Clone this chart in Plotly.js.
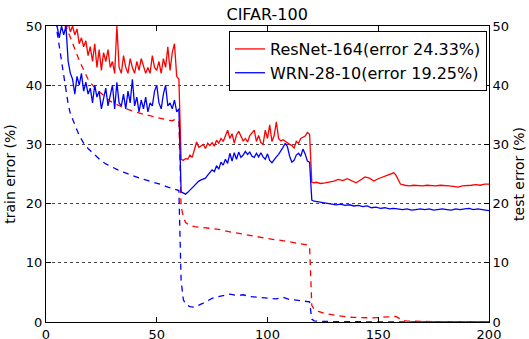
<!DOCTYPE html>
<html>
<head>
<meta charset="utf-8">
<script src="https://cdn.plot.ly/plotly-3.0.1.min.js"></script>
<style>html,body{margin:0;padding:0;background:#fff;}#chart{width:529px;height:339px;}</style>
</head>
<body>
<div id="chart"></div>
<script>
// ResNet-164 test error (solid), per epoch
var resTestX = [];
for (var i = 1; i <= 120; i++) resTestX.push(i);
var resTestY = [75,65,60,57,55,53,52,51,49.5,50.5,49,50,48.5,49.5,47,48,46.5,47.5,45,46.5,
  44,47,43,46,42.5,45.5,44,46,43,44,42,50,43,42,45,43,42,44.5,43,42,
  44,42.5,44.5,43,42,43,42,45,43,42.5,44,42,44.5,43,46.5,42.5,45.5,47,41.5,41,
  27.5,27.3,27.6,27.5,28.2,27.8,29,30.4,29.5,29.8,30,29.3,30.2,29.8,30.3,29.7,30.7,30.2,31,30.5,
  31.5,32.4,31,31.8,30.2,31.6,32.2,31.4,30.6,31,30.4,31.5,32,32.4,30.5,31.5,30.3,30,32.4,31,
  33.3,30.5,31.5,33.8,31,30.6,30.8,30.5,30.2,30,29.8,29.4,30.5,30.2,31,31.2,31.4,32,31.7,23.6];
var resTestX2 = [121,122,124,126,128,130,132,134,136,138,140,142,144,146,148,150,152,154,156,157,158,159,160,162,164,166,168,170,172,174,176,178,180,182,184,186,188,190,192,194,196,198,200];
var resTestY2 = [23.5,23.6,23.4,23.5,23.6,23.8,24.1,23.9,24.2,23.8,23.5,24,24.5,24.3,23.8,24.2,24.5,24.8,25,25.2,24.8,24,23.3,23.1,23,23.1,23,23,23.1,23,23,23.1,23.1,23,22.9,22.8,23,23,23.1,23.2,23.1,23.3,23.3];

// WRN-28-10 test error (solid), per epoch
var wrnTestY = [70,62,56,52,50,48,50,48.5,50,44,42,41,38.5,41.5,40,42,39,40.5,38.5,39.5,
  37,40,38,39,36,37.5,39.5,36.5,38,40,36,40.5,37,36.5,38.5,36,39,37,41,36.5,
  38,35.5,37.5,36,38,35.5,37,36.5,39,40,37,36,38.5,40,36.5,37,36,37.5,35.5,36,
  22,21.8,21.6,21.9,22.3,22.6,23,23.5,23.8,24,24.2,24.3,24.8,25.3,25.7,25.4,26.4,25.8,27,26.5,
  27.5,26.8,28.5,27.2,28.6,27.5,28.7,27.8,28.2,28.8,28.3,28.7,28,27.8,28.5,27.9,28.6,27.9,27.5,28.4,
  27.3,26.9,27.5,27.9,28.3,28.8,29.5,30.2,29.6,28,27,27.3,28.2,28.5,28,29.2,28.4,27.2,27,20.6];
var wrnTestX2 = [121,123,125,127,129,131,133,135,137,139,141,143,145,147,149,151,153,155,157,159,161,163,165,167,169,171,173,175,177,179,181,183,185,187,189,191,193,195,197,199,200];
var wrnTestY2 = [20.4,20.3,20.2,20.1,19.9,19.8,19.9,19.7,19.8,19.6,19.7,19.5,19.6,19.3,19.4,19.2,19.3,19.1,19.2,19.1,19,19.1,18.9,19,19.1,19,19.1,18.9,19,19.1,19,18.9,19.1,19,19.1,19.2,19,19.1,19,18.8,18.8];

// ResNet-164 train error (dashed)
var resTrainX = [1,3,5,7,9,11,13,15,17,19,21,23,25,27,29,31,33,35,37,39,41,43,45,47,49,51,53,55,57,59,60,
  61,62,63,65,67,70,73,76,79,82,85,88,91,94,97,100,103,106,109,112,115,118,119,
  120,121,123,126,129,132,135,138,141,144,147,150,153,156,158,160,161,163,166,170,175,180,190,200];
var resTrainY = [80,65,57,53,50,48,46,44.2,42.6,41,40,39.2,38.6,38,37.3,36.9,36.5,36.2,35.9,35.6,35.4,35.2,35,34.8,34.6,34.5,34.3,34.1,34,34.3,33.8,
  19.5,17.8,16.8,16.3,16.1,16,15.9,15.7,15.6,15.3,15.1,14.9,14.6,14.5,14.3,14,13.9,13.8,13.6,13.5,13.2,13,12.8,
  2.8,2.2,1.8,1.4,1.2,1,0.9,0.8,0.75,0.7,0.7,0.75,0.8,0.9,0.95,0.5,0.25,0.15,0.1,0.08,0.07,0.06,0.06,0.05];

// WRN-28-10 train error (dashed)
var wrnTrainX = [1,3,5,6,7,8,9,10,11,12,13,14,15,17,19,21,23,25,27,29,31,33,35,37,39,41,43,45,47,49,51,53,55,57,59,60,
  61,62,63,65,67,69,71,73,75,77,80,83,86,89,92,95,98,101,104,107,110,113,116,118,119,
  120,121,124,130,140,150,160,170,180,190,200];
var wrnTrainY = [75,58,49,46.5,44,41,38.7,36.8,35.2,34.2,33.2,32.2,31.5,30.2,29.3,28.6,27.9,27.2,26.7,26.3,25.9,25.6,25.3,25,24.7,24.4,24.2,24,23.8,23.6,23.3,23.1,22.8,22.6,22.4,22.2,
  7,3.8,3,2.6,2.5,2.8,3.2,3.6,4,4.2,4.4,4.7,4.5,4.6,4.3,4.2,4.1,4,3.9,4.2,3.8,3.7,3.6,3.5,3.4,
  0.5,0.2,0.1,0.05,0.04,0.03,0.03,0.02,0.02,0.02,0.02];

var resName = 'ResNet-164(error 24.33%)';
var wrnName = 'WRN-28-10(error 19.25%)';

var RED = '#ff0000', BLUE = '#0000ff';
var LW = 1.3;

var traces = [
  {x: resTrainX, y: resTrainY, yaxis: 'y', mode: 'lines', line: {color: RED, width: LW, dash: '6px,5px'}, showlegend: false, hoverinfo: 'skip'},
  {x: wrnTrainX, y: wrnTrainY, yaxis: 'y', mode: 'lines', line: {color: BLUE, width: LW, dash: '6px,5px'}, showlegend: false, hoverinfo: 'skip'},
  {x: resTestX.concat(resTestX2), y: resTestY.concat(resTestY2), yaxis: 'y2', mode: 'lines', name: resName, line: {color: RED, width: LW}},
  {x: resTestX.concat(wrnTestX2), y: wrnTestY.concat(wrnTestY2), yaxis: 'y2', mode: 'lines', name: wrnName, line: {color: BLUE, width: LW}}
];

var FONT = 'DejaVu Sans';
var layout = {
  width: 529, height: 339,
  margin: {l: 46, r: 40, t: 26, b: 17, pad: 0},
  paper_bgcolor: '#fff', plot_bgcolor: '#fff',
  font: {family: FONT, size: 13, color: '#000'},
  title: {text: 'CIFAR-100', font: {family: FONT, size: 16, color: '#000'}, x: 0.505, xanchor: 'center', y: 0.957, yanchor: 'middle'},
  showlegend: true,
  legend: {x: 0.9955, xanchor: 'right', y: 0.983, yanchor: 'top', bgcolor: '#fff', bordercolor: '#000', borderwidth: 1,
           font: {family: FONT, size: 16, color: '#000'}, itemwidth: 30, tracegroupgap: 0},
  xaxis: {range: [0, 200], tickvals: [0, 50, 100, 150, 200], ticks: 'inside', ticklen: 5, tickcolor: '#000',
          showline: true, linecolor: '#000', linewidth: 1, mirror: 'ticks', showgrid: false, zeroline: false,
          tickfont: {family: FONT, size: 13}, fixedrange: true},
  yaxis: {range: [0, 50], tickvals: [0, 10, 20, 30, 40, 50], ticks: 'inside', ticklen: 5, tickcolor: '#000',
          showline: true, linecolor: '#000', linewidth: 1, showgrid: true, gridcolor: '#444', griddash: 'dot', gridwidth: 1,
          zeroline: false, tickfont: {family: FONT, size: 13},
          title: {text: 'train error (%)', font: {family: FONT, size: 14}, standoff: 6}},
  yaxis2: {range: [0, 50], tickvals: [0, 10, 20, 30, 40, 50], ticks: 'inside', ticklen: 5, tickcolor: '#000',
           overlaying: 'y', side: 'right', showline: true, linecolor: '#000', linewidth: 1, showgrid: false, zeroline: false,
           tickfont: {family: FONT, size: 13},
           title: {text: 'test error (%)', font: {family: FONT, size: 14}, standoff: 6}}
};

Plotly.newPlot('chart', traces, layout, {staticPlot: true, displayModeBar: false});
</script>
</body>
</html>
